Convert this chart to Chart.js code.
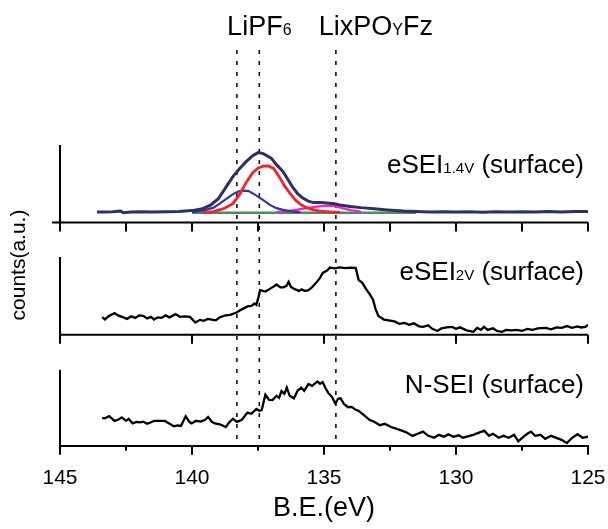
<!DOCTYPE html>
<html>
<head>
<meta charset="utf-8">
<script src="https://cdn.jsdelivr.net/npm/chart.js@4"></script>
<style>
  body { margin: 0; background: #fff; }
  #xps { display: block; }
</style>
</head>
<body>
<canvas id="xps" width="608" height="529"></canvas>
<script>
// x axis: binding energy (eV), reversed
const xTicks = [145, 140, 135, 130, 125];
const peakLines = [138.3, 137.45, 134.55];   // LiPF6 (two lines) and LixPOyFz

// eSEI 1.4V (surface): measured envelope + fitted components, [eV, counts]
const esei14Envelope = [[143.6,10.5],[143.3,10.5],[143.0,10.8],[142.7,11.5],[142.6,9.8],[142.3,10.5],[142.0,10.8],[141.5,10.6],[141.0,10.9],[140.5,11.2],[140.0,12],[139.6,14],[139.3,17.5],[139.0,24],[138.8,32],[138.45,46],[138.2,54],[137.95,61],[137.7,67],[137.5,70],[137.3,69],[137.0,64.5],[136.8,58],[136.55,51],[136.2,36],[136.0,29],[135.8,24.5],[135.6,21.5],[135.4,20],[135.1,20],[134.9,19.7],[134.6,18.8],[134.4,17.7],[134.0,16.2],[133.6,15],[133.1,13.8],[132.6,12.7],[132.0,11.5],[131.5,11],[131.0,10.6],[130.5,10.9],[130.0,10.5],[129.5,10.8],[129.0,10.4],[128.5,10.9],[128.0,10.6],[127.5,10.9],[127.0,10.5],[126.5,11],[126.0,10.7],[125.5,11],[125.0,11]];
const esei14Red = [[139.6,10],[139.2,11],[138.8,14],[138.45,19],[138.2,28],[137.95,40],[137.7,50],[137.5,54.5],[137.3,56.5],[137.1,56.7],[136.9,54],[136.7,46],[136.5,37],[136.3,29.7],[136.1,23],[135.9,18.5],[135.7,15.5],[135.5,13.5],[135.2,11.8],[134.8,10.8],[134.4,10.3]];
const esei14Blue = [[140.0,10.5],[139.6,12],[139.2,14.7],[138.95,19],[138.7,23.7],[138.45,28.5],[138.25,31],[138.05,32],[137.85,31.5],[137.56,27],[137.3,22.5],[137.05,17.7],[136.8,14.5],[136.55,12.7],[136.2,11],[135.9,10.5]];
const esei14Magenta = [[136.8,10.5],[136.4,11.5],[136.0,13],[135.6,14.8],[135.2,16.2],[134.9,17],[134.6,16.5],[134.3,14.5],[134.0,12.5],[133.6,11]];
const esei14Background = [[140.0,9.8],[131.5,9.8]];

// eSEI 2V (surface)
const esei2v = [[143.4,17.8],[143.3,15.5],[143.15,19],[142.93,21.7],[142.8,19.5],[142.65,18],[142.46,16],[142.3,18.5],[142.15,17],[142.0,19.5],[141.85,19],[141.7,16.5],[141.55,18],[141.44,15.3],[141.3,17.5],[141.15,17],[141.0,19.5],[140.85,17.5],[140.62,20.7],[140.45,18],[140.3,18.5],[140.08,18],[139.87,12.4],[139.7,15],[139.55,14],[139.4,16],[139.26,15.3],[139.1,14.5],[138.95,17.5],[138.72,19.6],[138.55,20],[138.31,22.4],[138.15,25],[137.9,28.5],[137.75,29],[137.63,31.4],[137.56,30],[137.48,38],[137.42,44.7],[137.22,43.3],[137.05,46],[136.9,48.5],[136.8,50.4],[136.65,47.5],[136.54,47.6],[136.42,49],[136.34,53],[136.25,48],[136.13,46],[135.95,44],[135.85,45.5],[135.73,44],[135.6,44.5],[135.45,47.6],[135.3,52],[135.15,57],[135.05,62],[134.9,64],[134.77,67.3],[134.6,66.5],[134.4,67.5],[134.2,66.8],[134.0,67.2],[133.8,67],[133.69,55],[133.55,52],[133.41,46],[133.25,40],[133.14,35],[133.05,26],[132.94,19],[132.73,15.3],[132.55,14.5],[132.33,13.5],[132.15,11],[131.95,12],[131.78,10],[131.6,11.5],[131.4,8.5],[131.25,8],[131.05,9.5],[130.9,6],[130.7,3.8],[130.55,6.5],[130.35,7.5],[130.15,8],[130.0,6],[129.85,7.5],[129.6,4.5],[129.34,3],[129.2,7],[129.05,5],[128.94,8],[128.8,5],[128.6,6.5],[128.45,4],[128.26,3],[128.1,5],[127.9,4.5],[127.7,5],[127.5,4],[127.3,6],[127.1,5],[126.9,6.5],[126.6,7],[126.4,5.5],[126.2,7.5],[126.0,7],[125.8,8.8],[125.6,7],[125.4,8.5],[125.26,7.4],[125.1,8],[125.0,10]];

// N-SEI (surface)
const nsei = [[143.4,27.8],[143.3,27.5],[143.14,29.6],[142.93,24.9],[142.8,26],[142.66,28.5],[142.5,25],[142.4,27],[142.25,22.4],[142.1,24],[141.95,23.5],[141.85,24.2],[141.7,22],[141.55,23.5],[141.44,24.9],[141.2,24.9],[141.03,24.9],[140.85,22],[140.69,19.5],[140.55,20.5],[140.42,19.9],[140.24,29.6],[140.1,24],[140.01,22.4],[139.85,25],[139.67,24.2],[139.5,26],[139.39,28.9],[139.25,24],[139.13,22.4],[138.95,21.5],[138.82,20],[138.72,18.8],[138.6,23],[138.45,27.1],[138.3,24],[138.11,26],[137.9,33.2],[137.75,32],[137.56,36.8],[137.45,35],[137.36,35.7],[137.22,51.1],[137.08,46],[136.95,45.7],[136.8,50],[136.7,48],[136.61,54.7],[136.5,52],[136.41,58.3],[136.3,50],[136.14,47.5],[136.0,55],[135.86,58.3],[135.75,55],[135.59,61.9],[135.45,60],[135.25,64.4],[135.15,62],[135.05,63.7],[134.95,58],[134.84,52.9],[134.7,49],[134.57,42.2],[134.47,47],[134.37,47.5],[134.25,42],[134.09,38.6],[133.95,39],[133.8,36],[133.69,35],[133.5,31],[133.28,26],[133.1,24],[132.88,20.6],[132.7,22],[132.46,18.8],[132.25,17],[132.05,15.2],[131.85,13],[131.65,9.9],[131.45,12],[131.25,14.2],[131.05,10],[130.83,8.1],[130.65,11],[130.45,9],[130.29,11.6],[130.1,9],[129.9,10.5],[129.74,8.1],[129.55,9.5],[129.35,11],[129.15,13],[128.93,15.2],[128.75,10],[128.6,12],[128.38,8.1],[128.2,10],[128.0,8],[127.8,11],[127.64,4.5],[127.45,9],[127.3,12],[127.16,14.2],[127.0,10],[126.8,11],[126.62,7],[126.4,10],[126.2,8],[126.0,6],[125.8,2.7],[125.6,8],[125.4,11.6],[125.2,8],[125.0,9.1]];

// vertical layout of the three stacked panels (in y-scale units)
const Y_MAX = 396;
const panels = [
  { base: 223.3, axisTop: 77.7, axisBottom: 0, minorTicks: true, leftStub: 8,
    label: ['eSEI', '1.4V', ' (surface)'], labelY: 50 },
  { base: 111, axisTop: 78, axisBottom: -5, minorTicks: false, leftStub: 0,
    label: ['eSEI', '2V', ' (surface)'], labelY: 55 },
  { base: 0, axisTop: 76, axisBottom: -4, minorTicks: true, leftStub: 0,
    label: ['N-SEI (surface)'], labelY: 53 }
];

const FONT = '"Liberation Sans", Arial, sans-serif';
Chart.defaults.font.family = FONT;
Chart.defaults.color = '#000';

function shift(points, base) {
  return points.map(p => ({ x: p[0], y: p[1] + base }));
}

function line(points, base, color, width) {
  return { data: shift(points, base), borderColor: color, borderWidth: width,
           pointRadius: 0, tension: 0, fill: false };
}

// draws a run of text pieces; each piece is [text, size]
function drawRun(ctx, pieces, x, yBase, alignRight) {
  const widths = pieces.map(([t, s]) => {
    ctx.font = s + 'px ' + FONT;
    return ctx.measureText(t).width;
  });
  if (alignRight) x -= widths.reduce((a, b) => a + b, 0);
  pieces.forEach(([t, s], i) => {
    ctx.font = s + 'px ' + FONT;
    ctx.fillText(t, x, yBase);
    x += widths[i];
  });
}

const overlay = {
  id: 'overlay',
  beforeDatasetsDraw(chart) {
    const { ctx, scales: { x, y } } = chart;
    ctx.save();
    ctx.strokeStyle = '#000';
    // dashed reference lines
    ctx.lineWidth = 1.5;
    ctx.setLineDash([4, 7]);
    peakLines.forEach(v => {
      const px = x.getPixelForValue(v);
      ctx.beginPath();
      ctx.moveTo(px, y.getPixelForValue(Y_MAX));
      ctx.lineTo(px, y.getPixelForValue(0));
      ctx.stroke();
    });
    ctx.setLineDash([]);
    ctx.lineWidth = 2;
    panels.forEach((p, i) => {
      const last = i === panels.length - 1;
      const py = y.getPixelForValue(p.base);
      // left axis segment
      ctx.beginPath();
      ctx.moveTo(x.left, y.getPixelForValue(p.base + p.axisTop));
      ctx.lineTo(x.left, y.getPixelForValue(p.base + p.axisBottom));
      ctx.stroke();
      // bottom axis for the upper panels (lowest uses the real x scale)
      if (!last) {
        ctx.beginPath();
        ctx.moveTo(x.left - p.leftStub, py);
        ctx.lineTo(x.right, py);
        ctx.stroke();
      }
      for (let v = 145; v >= 125; v -= 2.5) {
        const major = v % 5 === 0;
        if (!major && !p.minorTicks) continue;
        const px = x.getPixelForValue(v);
        ctx.beginPath();
        ctx.moveTo(px, py);
        ctx.lineTo(px, py + (last && !major ? 5 : 9));
        ctx.stroke();
      }
    });
    ctx.restore();
  },
  afterDraw(chart) {
    const { ctx, chartArea: a, scales: { x, y } } = chart;
    ctx.save();
    ctx.fillStyle = '#000';
    ctx.textBaseline = 'alphabetic';
    panels.forEach(p => {
      const pieces = p.label.map((t, i) => [t, i % 2 ? 15 : 26]);
      drawRun(ctx, pieces, x.right - 4, y.getPixelForValue(p.base + p.labelY), true);
    });
    // peak assignments above the dashed lines
    const top = y.getPixelForValue(Y_MAX) - 15;
    drawRun(ctx, [['LiPF', 27], ['6', 16]], x.getPixelForValue(138.67), top, false);
    drawRun(ctx, [['LixPO', 27], ['Y', 16], ['Fz', 27]], x.getPixelForValue(135.2), top, false);
    // x title
    ctx.font = '27px ' + FONT;
    ctx.textAlign = 'center';
    ctx.textBaseline = 'middle';
    ctx.fillText('B.E.(eV)', (a.left + a.right) / 2, a.bottom + 63);
    // y title
    ctx.translate(19, 265);
    ctx.rotate(-Math.PI / 2);
    ctx.font = '21px ' + FONT;
    ctx.fillText('counts(a.u.)', 0, 0);
    ctx.restore();
  }
};

const ctx = document.getElementById('xps');
const chart = new Chart(ctx, {
  type: 'line',
  data: {
    datasets: [
      line(esei14Envelope, panels[0].base, '#2d2f6a', 3),
      line(esei14Red, panels[0].base, '#f8202a', 2.8),
      line(esei14Blue, panels[0].base, '#3535a0', 2.2),
      line(esei14Magenta, panels[0].base, '#ff1fbf', 2.2),
      line(esei14Background, panels[0].base, '#4d8a5c', 2.5),
      line(esei2v, panels[1].base, '#000', 2.3),
      line(nsei, panels[2].base, '#000', 2.3)
    ]
  },
  options: {
    responsive: false,
    animation: false,
    devicePixelRatio: 1,
    layout: { padding: { left: 60, right: 20, top: 50, bottom: 36 } },
    plugins: { legend: { display: false }, tooltip: { enabled: false } },
    scales: {
      x: {
        type: 'linear',
        reverse: true,
        min: 125,
        max: 145,
        border: { color: '#000', width: 2 },
        grid: { drawOnChartArea: false, tickLength: 18, tickColor: 'rgba(0,0,0,0)' },
        ticks: {
          stepSize: 2.5,
          autoSkip: false,
          maxRotation: 0,
          padding: 2,
          font: { size: 21 },
          callback: v => (xTicks.includes(v) ? String(v) : '')
        }
      },
      y: { display: false, min: 0, max: Y_MAX }
    }
  },
  plugins: [overlay]
});
</script>
</body>
</html>
